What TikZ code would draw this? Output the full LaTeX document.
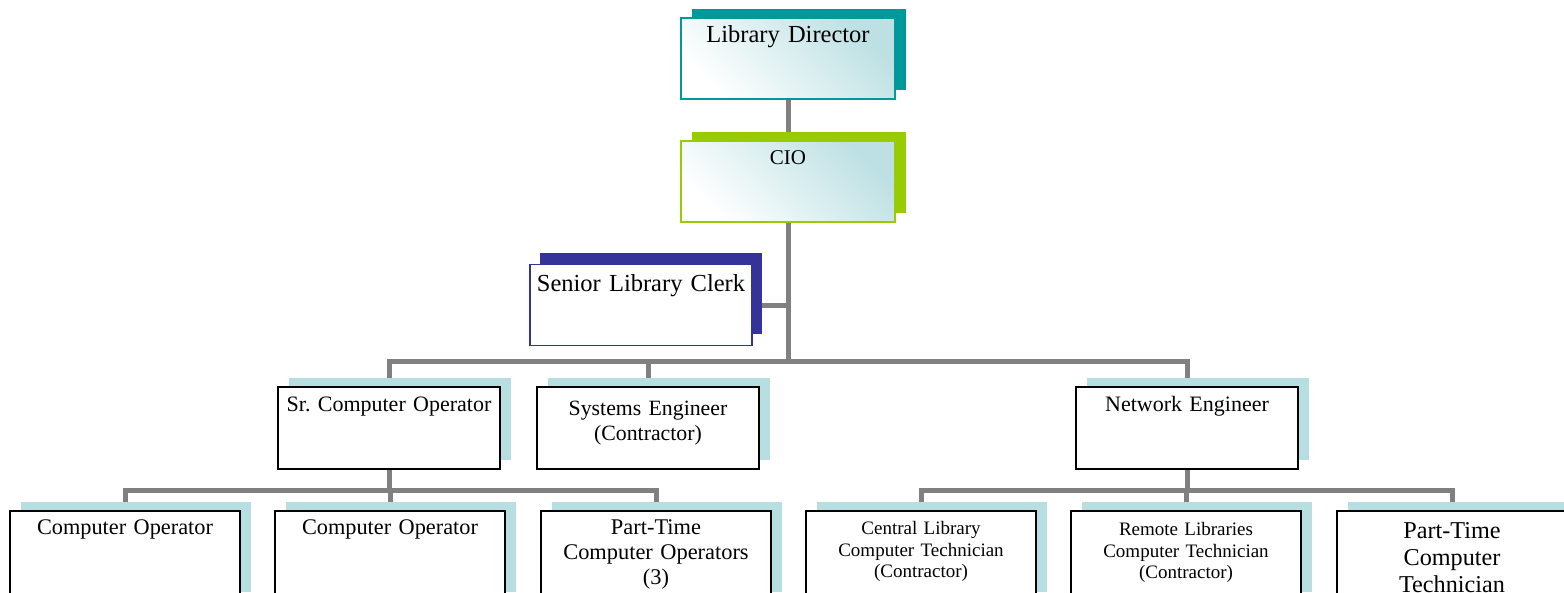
\documentclass[tikz,border=0pt]{standalone}
\usepackage{fontspec}
\setmainfont{Liberation Serif}
\usepackage{tikz}
\usetikzlibrary{shadows, backgrounds}

\definecolor{tealc}{HTML}{009999}
\definecolor{limec}{HTML}{99CC00}
\definecolor{navyc}{HTML}{333399}
\definecolor{paleblue}{HTML}{B7DEE1}
\definecolor{shadeblue}{HTML}{BCE0E3}
\definecolor{linkgray}{HTML}{808080}

\newcommand{\fsz}[2]{\fontsize{#1}{#2}\selectfont}
\frenchspacing

\begin{document}
\begin{tikzpicture}[x=1pt, y=-1pt,
        post/.style={rectangle, draw=black, line width=1.5pt, fill=white, inner sep=0pt,
                     align=center, text width=222pt, text height=25pt, text depth=57pt,
                     anchor=north},
        lowpost/.style={post, text width=230pt, text height=24pt, text depth=66pt},
        headpost/.style={post, text width=214pt, text height=25pt, text depth=56pt,
                         left color=white, right color=shadeblue, shading angle=135},
        backcard/.style={general shadow={fill=#1, shadow xshift=10.5pt, shadow yshift=8.5pt}},
        link/.style={line width=5pt, color=linkgray}]

    \useasboundingbox (0,0) rectangle (1564,592);
    \clip (0,0) rectangle (1564,592);

    % top of the chart
    \node[headpost, draw=tealc, backcard=tealc, font=\fsz{24.5}{27}] (director) at (788,17) {Library Director};
    \node[headpost, draw=limec, backcard=limec, font=\fsz{21}{24}, text height=24pt, text depth=57pt] (cio) at (788,140) {CIO};
    \node[post, draw=navyc, line width=1.2pt, font=\fsz{24.5}{27}, text height=27pt, text depth=54pt,
          general shadow={fill=navyc, shadow xshift=10pt, shadow yshift=11.5pt}] (clerk) at (641,264) {Senior Library Clerk};

    % middle row
    \node[post, backcard=paleblue, font=\fsz{22}{25}] (sco) at (389,386) {Sr. Computer Operator};
    \node[post, backcard=paleblue, font=\fsz{21.8}{25}, text height=29pt, text depth=53pt] (syseng) at (648,386) {Systems Engineer\\(Contractor)};
    \node[post, backcard=paleblue, font=\fsz{22}{25}] (netw) at (1187,386) {Network Engineer};

    % bottom row
    \node[lowpost, backcard=paleblue, font=\fsz{22.3}{25}] (op1) at (125,510) {Computer Operator};
    \node[lowpost, backcard=paleblue, font=\fsz{22.3}{25}] (op2) at (390,510) {Computer Operator};
    \node[lowpost, backcard=paleblue, font=\fsz{22.4}{25}] (op3) at (656,510) {Part-Time\\Computer Operators\\(3)};
    \node[lowpost, backcard=paleblue, font=\fsz{19}{21.5}] (tech1) at (921,510) {Central Library\\Computer Technician\\(Contractor)};
    \node[lowpost, backcard=paleblue, font=\fsz{19}{21.5}, text height=25pt, text depth=65pt] (tech2) at (1186,510) {Remote Libraries\\Computer Technician\\(Contractor)};
    \node[lowpost, backcard=paleblue, font=\fsz{24.2}{27}, text height=28pt, text depth=62pt] (tech3) at (1452,510) {Part-Time\\Computer\\Technician};

    \begin{scope}[on background layer]
        \coordinate (hub) at (788,361);
        \coordinate (opsbus) at (389,490);
        \coordinate (techbus) at (1187,490);

        \draw[link] (director) -- (cio);
        \draw[link] (cio) -- (hub);
        \draw[link] (clerk) -- (clerk -| cio);
        \draw[link] (sco) -- (sco |- hub) -- (netw |- hub) -- (netw);
        \draw[link] (syseng) -- (syseng |- hub);

        \draw[link] (sco) -- (opsbus);
        \draw[link] (op1) -- (op1 |- opsbus) -- (op3 |- opsbus) -- (op3);
        \draw[link] (op2) -- (op2 |- opsbus);

        \draw[link] (netw) -- (techbus);
        \draw[link] (tech1) -- (tech1 |- techbus) -- (tech3 |- techbus) -- (tech3);
        \draw[link] (tech2) -- (tech2 |- techbus);
    \end{scope}
\end{tikzpicture}
\end{document}
